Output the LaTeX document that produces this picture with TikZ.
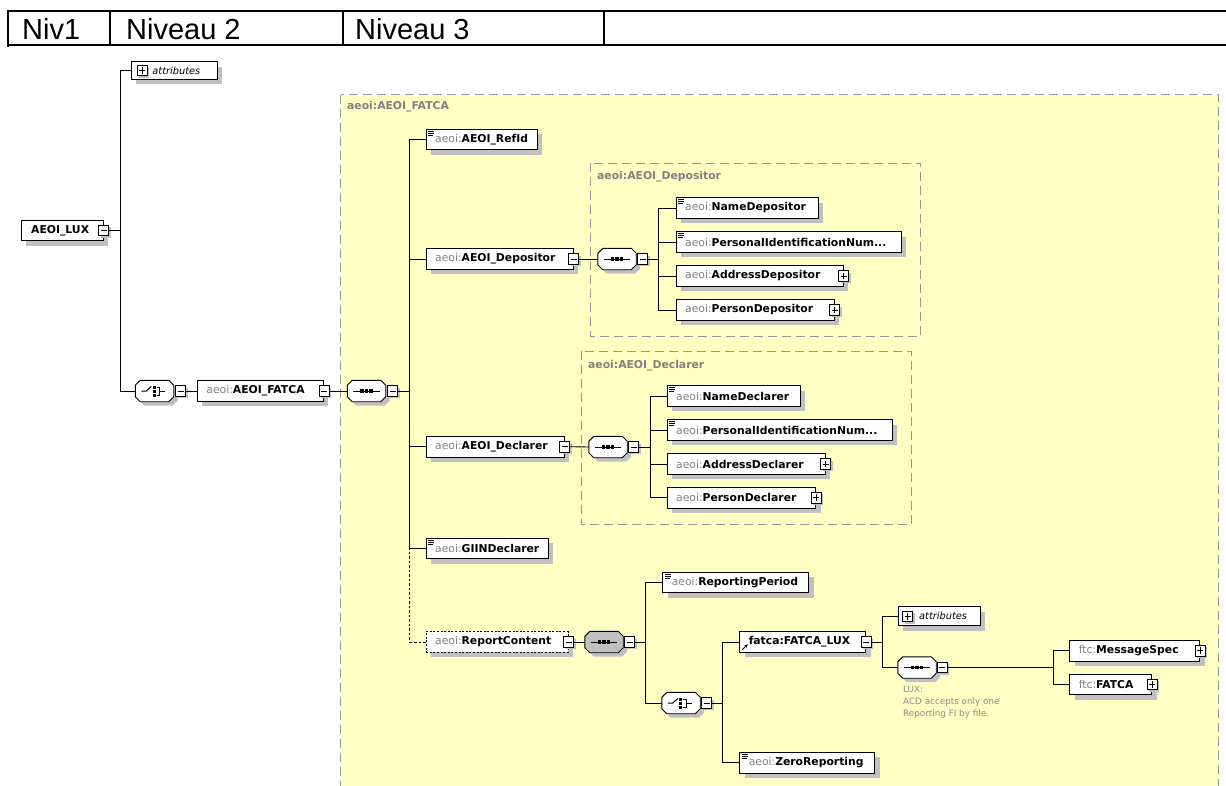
\documentclass[tikz,border=0pt]{standalone}
\usepackage{fontspec}
\setmainfont{DejaVu Sans}
\newfontfamily\hdrfont{Liberation Sans}
\usetikzlibrary{shadows,arrows.meta}
\definecolor{yel}{RGB}{255,255,196}
\definecolor{shcol}{RGB}{192,192,192}
\definecolor{pre}{RGB}{128,128,128}
\definecolor{dgray}{RGB}{150,150,150}
\definecolor{seqgray}{RGB}{192,192,192}
\definecolor{notegray}{RGB}{140,140,140}
\newcommand\pf[1]{\textcolor{pre}{\mdseries #1}}
\newcommand\att{\itshape\fontsize{9.8}{11}\selectfont}
\newcommand\lbl[3]{\makebox[#1pt][l]{\hspace{#2pt}#3}}
\newcommand\octp[1]{([xshift=5pt]#1.north west) -- ([xshift=-5pt]#1.north east) -- ([yshift=-5pt]#1.north east) -- ([yshift=5pt]#1.south east) -- ([xshift=-5pt]#1.south east) -- ([xshift=5pt]#1.south west) -- ([yshift=5pt]#1.south west) -- ([yshift=-5pt]#1.north west) -- cycle}
\newcommand\octo[2]{\begin{scope}[transform canvas={xshift=4pt,yshift=-4pt}]\fill[shcol] \octp{#1};\end{scope}\draw[line width=0.9pt, fill=#2] \octp{#1};}
\newcommand\seqglyph[1]{\draw[line width=1pt] ([xshift=6pt]#1.west) -- ([xshift=-6pt]#1.east);
  \foreach \dd in {-4.5,0,4.5}{\fill ([xshift=\dd pt]#1.center) +(-1.7pt,-1.7pt) rectangle +(1.7pt,1.7pt);}}
\newcommand\choiceglyph[1]{\draw[line width=1pt] ([xshift=6pt]#1.west) -- ([xshift=11pt]#1.west) -- ([xshift=16pt,yshift=4.5pt]#1.west);
  \foreach \dd in {-4,0,4}{\fill ([xshift=18.7pt,yshift=\dd pt]#1.west) +(-1.5pt,-1.5pt) rectangle +(1.5pt,1.5pt);}
  \draw[line width=1pt] ([xshift=21.5pt,yshift=4pt]#1.west) -- ([xshift=24.5pt,yshift=4pt]#1.west) -- ([xshift=24.5pt,yshift=-4pt]#1.west) -- ([xshift=21.5pt,yshift=-4pt]#1.west) ([xshift=24.5pt]#1.west) -- ([xshift=30pt]#1.west);}
\begin{document}
\begin{tikzpicture}[x=1pt,y=-1pt,
  el/.style={draw, fill=white, line width=0.9pt, inner sep=0pt, minimum height=20.5pt, anchor=west,
    font=\fontsize{10.8}{12}\selectfont,
    drop shadow={shadow xshift=5pt, shadow yshift=-5pt, fill=shcol, opacity=1}},
  simple/.style={path picture={\draw[line width=0.6pt]
    ([xshift=2pt,yshift=-2pt]path picture bounding box.north west) -- ++(6pt,0pt)
    ([xshift=2pt,yshift=-3.8pt]path picture bounding box.north west) -- ++(6pt,0pt)
    ([xshift=2pt,yshift=-5.6pt]path picture bounding box.north west) -- ++(5pt,0pt);}},
  refarrow/.style={path picture={\draw[line width=0.9pt, -{Stealth[length=3.5pt,width=3.5pt]}]
    ([xshift=2.5pt,yshift=2.5pt]path picture bounding box.south west) -- ([xshift=8pt,yshift=8pt]path picture bounding box.south west);}},
  mbox/.style={draw, fill=white, line width=0.7pt, minimum width=10pt, minimum height=10.5pt, inner sep=0pt,
    drop shadow={shadow xshift=2pt, shadow yshift=-2pt, fill=shcol, opacity=1},
    path picture={\draw[line width=0.7pt] ([xshift=2pt]path picture bounding box.west) -- ([xshift=-2pt]path picture bounding box.east);}},
  pbox/.style={mbox, path picture={\draw[line width=0.7pt] ([xshift=2pt]path picture bounding box.west) -- ([xshift=-2pt]path picture bounding box.east)
    ([yshift=2pt]path picture bounding box.south) -- ([yshift=-2pt]path picture bounding box.north);}},
  octn/.style={minimum width=38pt, minimum height=21pt, inner sep=0pt},
  con/.style={line width=0.9pt},
  grp/.style={draw=dgray, line width=1pt, dash pattern=on 9pt off 5pt},
  glbl/.style={anchor=west, inner sep=0pt, text=pre, font=\bfseries\fontsize{10.8}{12}\selectfont},
  hdr/.style={anchor=base west, inner sep=0pt, font=\hdrfont\fontsize{29}{31}\selectfont}
]
\useasboundingbox (0,0) rectangle (1226,785);
\fill[white] (0,0) rectangle (1226,785);

% header table
\draw[line width=1.4pt] (8,11) -- (1226,11) (8,45) -- (1226,45);
\draw[line width=2pt] (8,10.3) -- (8,47);
\draw[line width=1.4pt] (110,11) -- (110,45) (343,11) -- (343,45) (604,11) -- (604,45);
\node[hdr] (h1) at (22,39.5) {Niv1};
\node[hdr] (h2) at (126,39.5) {Niveau 2};
\node[hdr] (h3) at (355,39.5) {Niveau 3};

% group boxes
\draw[grp, fill=yel] (340.5,94.5) rectangle (1218.5,800);
\node[glbl] (gF) at (347,107) {aeoi:AEOI\_FATCA};
\draw[grp] (590.7,163.3) rectangle (920.7,336.3);
\node[glbl] (gDep) at (597,177) {aeoi:AEOI\_Depositor};
\draw[grp] (581.7,351) rectangle (911.7,524.3);
\node[glbl] (gDec) at (588,365.5) {aeoi:AEOI\_Declarer};

% level 1
\node[el, minimum width=82pt] (lux) at (20.7,230.5) {\lbl{82}{10}{\textbf{AEOI\_LUX}}};
\node[mbox] (luxm) at (lux.east) {};
\node[el, minimum width=86pt, minimum height=17.5pt] (attr1) at (131,70.5) {\lbl{86}{21}{\att attributes}};
\node[pbox] (attr1p) at ([xshift=11pt]attr1.west) {};
\node[octn] (ch1) at (154.5,391) {};
\octo{ch1}{white}\choiceglyph{ch1}
\node[mbox, anchor=west] (ch1m) at ([xshift=1.5pt]ch1.east) {};
\node[el, minimum width=126pt] (fatca) at (197,391) {\lbl{126}{9}{\pf{aeoi:}\textbf{AEOI\_FATCA}}};
\node[mbox] (fatcam) at (fatca.east) {};
\node[octn] (s1) at (366.5,391) {};
\octo{s1}{white}\seqglyph{s1}
\node[mbox, anchor=west] (s1m) at ([xshift=1.5pt]s1.east) {};

% AEOI_FATCA children
\node[el, simple, minimum width=111pt] (refid) at (425.7,139.5) {\lbl{111}{9}{\pf{aeoi:}\textbf{AEOI\_RefId}}};
\node[el, minimum width=147pt] (dep) at (425.7,259) {\lbl{147}{9}{\pf{aeoi:}\textbf{AEOI\_Depositor}}};
\node[mbox] (depm) at (dep.east) {};
\node[el, minimum width=138pt] (decl) at (425.7,446.7) {\lbl{138}{9}{\pf{aeoi:}\textbf{AEOI\_Declarer}}};
\node[mbox] (declm) at (decl.east) {};
\node[el, simple, minimum width=122pt] (giin) at (425.7,548.5) {\lbl{122}{9}{\pf{aeoi:}\textbf{GIINDeclarer}}};
\node[el, minimum width=142pt, dash pattern=on 2pt off 1.6pt] (rc) at (425.7,642) {\lbl{142}{9}{\pf{aeoi:}\textbf{ReportContent}}};
\node[mbox] (rcm) at (rc.east) {};

% Depositor
\node[octn] (s2) at (617,259) {};
\octo{s2}{white}\seqglyph{s2}
\node[mbox, anchor=west] (s2m) at ([xshift=1pt]s2.east) {};
\node[el, simple, minimum width=142pt] (nd) at (675.7,208) {\lbl{142}{9}{\pf{aeoi:}\textbf{NameDepositor}}};
\node[el, simple, minimum width=225pt] (pid1) at (675.7,242) {\lbl{225}{9}{\pf{aeoi:}\textbf{PersonalIdentificationNum...}}};
\node[el, minimum width=167pt] (ad) at (675.7,276) {\lbl{167}{9}{\pf{aeoi:}\textbf{AddressDepositor}}};
\node[pbox] (adp) at (ad.east) {};
\node[el, minimum width=158pt] (pd) at (675.7,310) {\lbl{158}{9}{\pf{aeoi:}\textbf{PersonDepositor}}};
\node[pbox] (pdp) at (pd.east) {};

% Declarer
\node[octn] (s3) at (608,447) {};
\octo{s3}{white}\seqglyph{s3}
\node[mbox, anchor=west] (s3m) at ([xshift=1pt]s3.east) {};
\node[el, simple, minimum width=133pt] (ndc) at (666.7,396) {\lbl{133}{9}{\pf{aeoi:}\textbf{NameDeclarer}}};
\node[el, simple, minimum width=225pt] (pid2) at (666.7,430) {\lbl{225}{9}{\pf{aeoi:}\textbf{PersonalIdentificationNum...}}};
\node[el, minimum width=158pt] (adc) at (666.7,464) {\lbl{158}{9}{\pf{aeoi:}\textbf{AddressDeclarer}}};
\node[pbox] (adcp) at (adc.east) {};
\node[el, minimum width=148.5pt] (pdc) at (666.7,497.7) {\lbl{148.5}{9}{\pf{aeoi:}\textbf{PersonDeclarer}}};
\node[pbox] (pdcp) at (pdc.east) {};

% ReportContent
\node[octn] (s4) at (604,642) {};
\octo{s4}{seqgray}\seqglyph{s4}
\node[mbox, anchor=west] (s4m) at ([xshift=1pt]s4.east) {};
\node[el, simple, minimum width=146pt] (rp) at (662.3,582.5) {\lbl{146}{9}{\pf{aeoi:}\textbf{ReportingPeriod}}};
\node[octn] (ch2) at (681,703) {};
\octo{ch2}{white}\choiceglyph{ch2}
\node[mbox, anchor=west] (ch2m) at ([xshift=1pt]ch2.east) {};
\node[el, refarrow, minimum width=126pt] (flux) at (739.3,642) {\lbl{126}{9}{\textbf{fatca:FATCA\_LUX}}};
\node[mbox] (fluxm) at (flux.east) {};
\node[el, simple, minimum width=135pt] (zr) at (739.3,762.7) {\lbl{135}{9}{\pf{aeoi:}\textbf{ZeroReporting}}};
\node[el, minimum width=82pt, minimum height=19pt] (attr2) at (897.7,616.3) {\lbl{82}{21}{\att attributes}};
\node[pbox] (attr2p) at ([xshift=10pt]attr2.west) {};
\node[octn] (s5) at (917,667.5) {};
\octo{s5}{white}\seqglyph{s5}
\node[mbox, anchor=west] (s5m) at ([xshift=0.5pt]s5.east) {};
\node[el, minimum width=130pt] (ms) at (1069.3,650.7) {\lbl{130}{9}{\pf{ftc:}\textbf{MessageSpec}}};
\node[pbox] (msp) at (ms.east) {};
\node[el, minimum width=82pt] (ft) at (1069.3,684.3) {\lbl{82}{9}{\pf{ftc:}\textbf{FATCA}}};
\node[pbox] (ftp) at (ft.east) {};
\node[anchor=north west, align=left, inner sep=0pt, text=notegray, font=\fontsize{8.8}{12}\selectfont] (note) at (903,686) {LUX:\\ACD accepts only one\\Reporting FI by file.};

% connectors
\coordinate (b1) at ([xshift=11.3pt]luxm.east);
\draw[con] (luxm.east) -- (b1);
\draw[con] (attr1.west) -| (b1) |- (ch1.west);
\draw[con] (ch1m.east) -- (fatca.west);
\draw[con] (fatcam.east) -- (s1.west);
\coordinate (b2) at ([xshift=12pt]s1m.east);
\draw[con] (s1m.east) -- (b2);
\draw[con] (refid.west) -| (b2);
\draw[con] (dep.west) -| (b2);
\draw[con] (decl.west) -| (b2);
\draw[con] (giin.west) -| (b2);
\draw[con, dash pattern=on 2.5pt off 2pt] (rc.west) -| (giin.west -| b2);
% depositor
\draw[con] (depm.east) -- (s2.west);
\coordinate (b3) at ([xshift=11pt]s2m.east);
\draw[con] (s2m.east) -- (b3);
\draw[con] (nd.west) -| (b3) |- (pd.west);
\draw[con] (pid1.west) -| (b3);
\draw[con] (ad.west) -| (b3);
% declarer
\draw[con] (declm.east) -- (s3.west);
\coordinate (b4) at ([xshift=11.3pt]s3m.east);
\draw[con] (s3m.east) -- (b4);
\draw[con] (ndc.west) -| (b4) |- (pdc.west);
\draw[con] (pid2.west) -| (b4);
\draw[con] (adc.west) -| (b4);
% report content
\draw[con] (rcm.east) -- (s4.west);
\coordinate (b5) at ([xshift=10.7pt]s4m.east);
\draw[con] (s4m.east) -- (b5);
\draw[con] (rp.west) -| (b5) |- (ch2.west);
\coordinate (b6) at ([xshift=10.6pt]ch2m.east);
\draw[con] (ch2m.east) -- (b6);
\draw[con] (flux.west) -| (b6) |- (zr.west);
\coordinate (b7) at ([xshift=11pt]fluxm.east);
\draw[con] (fluxm.east) -- (b7);
\draw[con] (attr2.west) -| (b7) |- (s5.west);
\coordinate (b8) at ([xshift=106pt]s5m.east);
\draw[con] (s5m.east) -- (b8);
\draw[con] (ms.west) -| (b8) |- (ft.west);
\end{tikzpicture}
\end{document}
